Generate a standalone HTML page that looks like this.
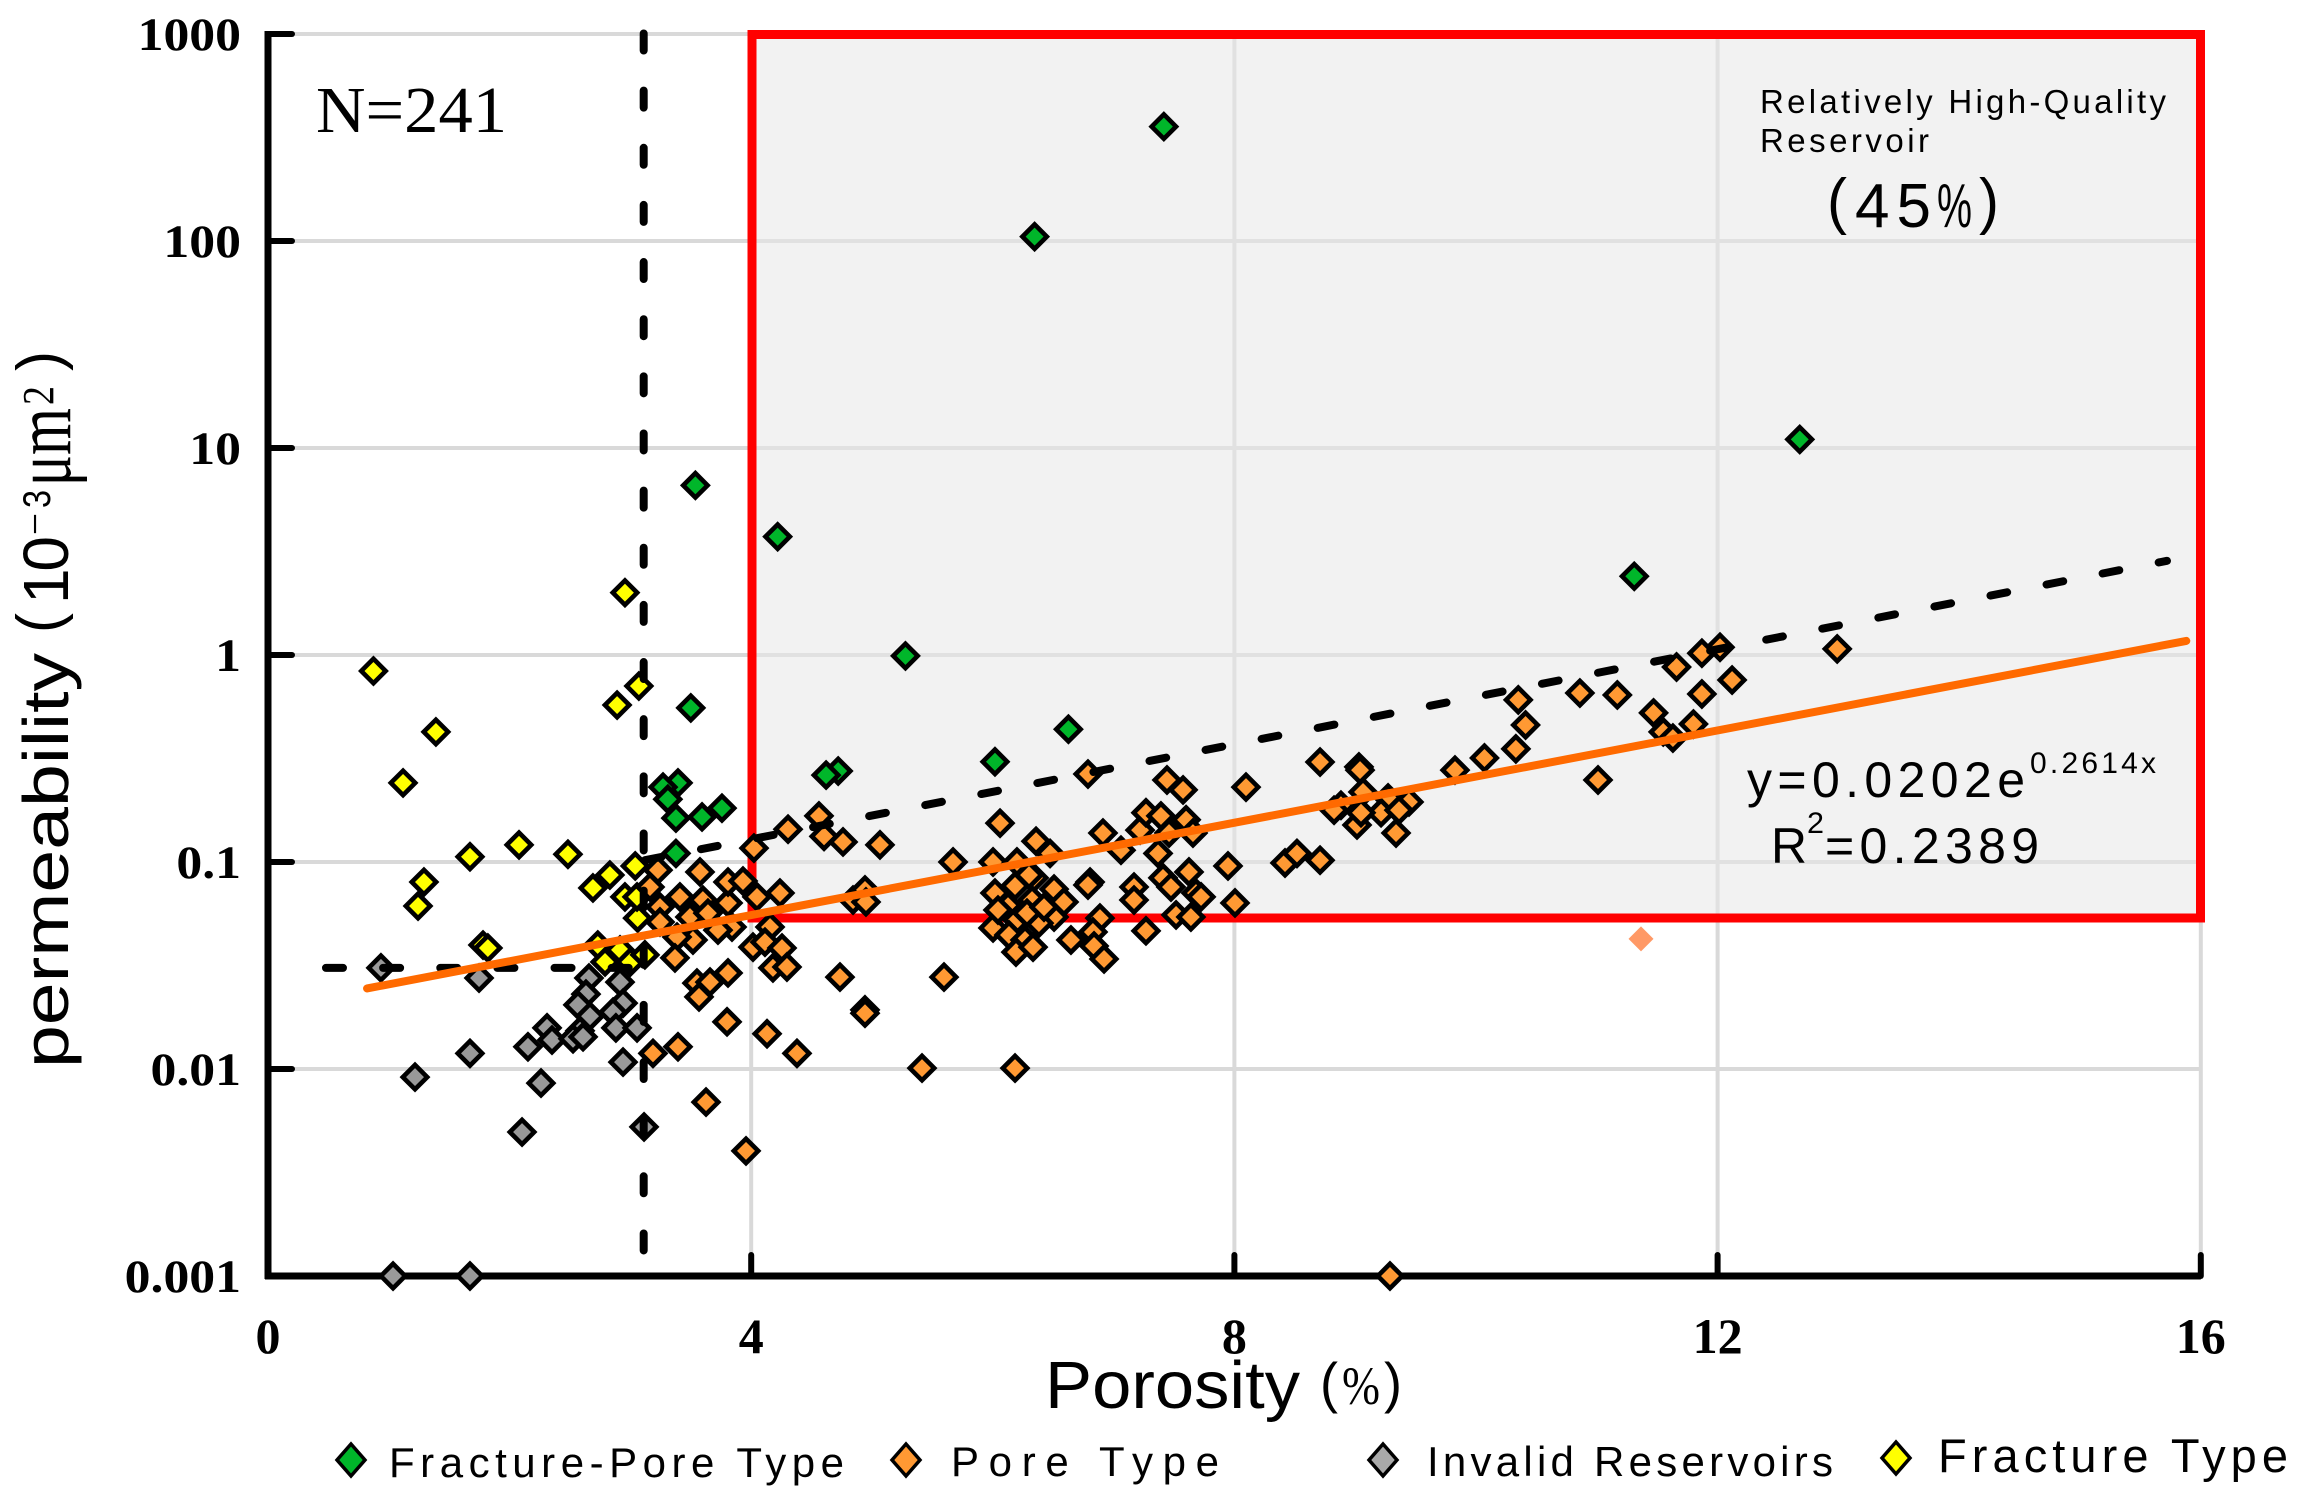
<!DOCTYPE html>
<html lang="en">
<head>
<meta charset="utf-8">
<title>Porosity vs permeability</title>
<style>
html,body{margin:0;padding:0;background:#fff;}
svg{display:block;}
text{fill:#000;}
.serif{font-family:"Liberation Serif",serif;}
.sans{font-family:"Liberation Sans",sans-serif;}
</style>
</head>
<body>
<svg id="chart" xmlns="http://www.w3.org/2000/svg" width="2302" height="1501" viewBox="0 0 2302 1501">
  <g id="grid"></g>
  <rect x="752" y="34.5" width="1448.5" height="883.5" fill="#e7e7e7" fill-opacity="0.553"/>
  <rect x="752" y="34.5" width="1448.5" height="883.5" fill="none" stroke="#ff0000" stroke-width="9"/>
  <g id="axes"></g>
  <g id="ticklabels"></g>
  <g id="marks"></g>
  <g id="lines"></g>

  <text class="serif" x="316" y="132" font-size="66" textLength="191" lengthAdjust="spacingAndGlyphs">N=241</text>

  <text class="sans" x="1760" y="113" font-size="33" textLength="406" lengthAdjust="spacing">Relatively High-Quality</text>
  <text class="sans" x="1760" y="152" font-size="33" textLength="169" lengthAdjust="spacing">Reservoir</text>
  <text class="sans" x="1827" y="222" font-size="62" textLength="20" lengthAdjust="spacingAndGlyphs">(</text>
  <text class="sans" x="1855" y="227" font-size="62" textLength="76" lengthAdjust="spacing">45</text>
  <text class="sans" x="1937" y="227" font-size="62" textLength="35" lengthAdjust="spacingAndGlyphs">%</text>
  <text class="sans" x="1979" y="222" font-size="62" textLength="20" lengthAdjust="spacingAndGlyphs">)</text>

  <text class="sans" x="1747" y="797" font-size="50" textLength="278" lengthAdjust="spacing">y=0.0202e</text>
  <text class="sans" x="2030" y="773" font-size="30" textLength="126" lengthAdjust="spacing">0.2614x</text>
  <text class="sans" x="1771" y="863" font-size="50" textLength="36" lengthAdjust="spacingAndGlyphs">R</text>
  <text class="sans" x="1807" y="833" font-size="30" textLength="17" lengthAdjust="spacingAndGlyphs">2</text>
  <text class="sans" x="1825" y="863" font-size="50" textLength="214" lengthAdjust="spacing">=0.2389</text>

  <text class="sans" x="1045" y="1408" font-size="67" textLength="255" lengthAdjust="spacingAndGlyphs">Porosity</text>
  <text class="sans" x="1320" y="1402" font-size="56" textLength="18" lengthAdjust="spacingAndGlyphs">(</text>
  <text class="serif" x="1342" y="1404" font-size="54" textLength="38" lengthAdjust="spacingAndGlyphs">%</text>
  <text class="sans" x="1384" y="1402" font-size="56" textLength="18" lengthAdjust="spacingAndGlyphs">)</text>

  <g>
    <text class="sans" transform="translate(68,1068) rotate(-90)" font-size="64" textLength="415" lengthAdjust="spacingAndGlyphs">permeability</text>
    <text class="sans" transform="translate(60,633) rotate(-90)" font-size="62" textLength="20" lengthAdjust="spacingAndGlyphs">(</text>
    <text class="sans" transform="translate(68,604) rotate(-90)" font-size="64" textLength="68" lengthAdjust="spacing">10</text>
    <text class="sans" transform="translate(45,535) rotate(-90)" font-size="30" textLength="22" lengthAdjust="spacingAndGlyphs">−</text>
    <text class="sans" transform="translate(50,508) rotate(-90)" font-size="39" textLength="18" lengthAdjust="spacingAndGlyphs">3</text>
    <text class="serif" transform="translate(70,486) rotate(-90)" font-size="80" textLength="31" lengthAdjust="spacingAndGlyphs">μ</text>
    <text class="serif" transform="translate(70,455) rotate(-90)" font-size="80" textLength="47" lengthAdjust="spacingAndGlyphs">m</text>
    <text class="serif" transform="translate(53,405) rotate(-90)" font-size="44" textLength="19" lengthAdjust="spacingAndGlyphs">2</text>
    <text class="sans" transform="translate(60,371) rotate(-90)" font-size="62" textLength="20" lengthAdjust="spacingAndGlyphs">)</text>
  </g>

  <g>
    <g>
      <polygon points="351,1444 365,1460 351,1476 337,1460" fill="#00b62a" stroke="#000" stroke-width="3.5"/>
      <text class="sans" x="389" y="1477" font-size="42" textLength="455" lengthAdjust="spacing">Fracture-Pore Type</text>
    </g>
    <g>
      <polygon points="906,1444 920,1460 906,1476 892,1460" fill="#ff9933" stroke="#000" stroke-width="3.5"/>
      <text class="sans" x="951" y="1476" font-size="42" textLength="268" lengthAdjust="spacing">Pore Type</text>
    </g>
    <g>
      <polygon points="1383,1444 1397,1460 1383,1476 1369,1460" fill="#aaaaaa" stroke="#000" stroke-width="3.5"/>
      <text class="sans" x="1427" y="1476" font-size="42" textLength="406" lengthAdjust="spacing">Invalid Reservoirs</text>
    </g>
    <g>
      <polygon points="1896,1442 1910,1458 1896,1474 1882,1458" fill="#ffff00" stroke="#000" stroke-width="3.5"/>
      <text class="sans" x="1938" y="1472" font-size="47" textLength="350" lengthAdjust="spacing">Fracture Type</text>
    </g>
  </g>
</svg>
<script>
var xTickValues = [0, 4, 8, 12, 16];
var xTickLabels = ["0", "4", "8", "12", "16"];
var yTickValues = [1000, 100, 10, 1, 0.1, 0.01, 0.001];
var yTickLabels = ["1000", "100", "10", "1", "0.1", "0.01", "0.001"];

var fracturePorosity = [0.873,1.39,1.118,1.672,2.078,2.483,1.291,1.242,2.69,2.83,3.04,2.955,3.06,3.055,1.78,1.82,2.73,2.914,2.79,3.0,3.12,2.89,2.955,3.07];
var fracturePermeability = [0.837,0.425,0.241,0.106,0.121,0.109,0.080,0.0613,0.0749,0.0865,0.0957,0.0678,0.0536,0.0678,0.0397,0.0384,0.0397,0.0376,0.0329,0.0329,0.0356,0.573,2.0,0.708];

var invalidPorosity = [0.935,1.747,2.657,2.914,2.632,2.566,2.939,2.856,2.666,2.31,2.583,2.88,3.055,2.351,2.152,2.525,2.608,1.672,2.939,1.217,2.26,2.103,3.113,1.035,1.672];
var invalidPermeability = [0.0308,0.0275,0.0275,0.0263,0.023,0.0204,0.0208,0.0188,0.018,0.0158,0.0153,0.0158,0.0158,0.0138,0.0128,0.014,0.0143,0.0119,0.0108,0.00914,0.00855,0.00496,0.00525,0.001,0.001];

var porePorosity = [3.228,3.162,3.245,3.245,3.41,3.576,3.60,3.493,3.808,3.808,3.932,4.048,4.238,3.642,3.841,3.518,3.386,3.369,4.156,4.015,4.114,4.255,4.18,4.296,3.551,3.659,3.808,3.568,3.80,4.131,3.187,3.394,4.379,3.626,3.957,4.023,4.305,3.725,
  4.561,4.603,4.76,5.066,4.735,4.942,4.942,5.596,5.414,6.184,4.843,4.942,4.95,5.671,6.002,6.06,6.2,6.358,6.474,6.788,6.912,7.061,6.805,6.788,7.219,7.268,7.392,7.442,7.575,7.6,7.657,7.459,7.368,7.169,7.169,7.409,7.475,7.624,7.682,7.724,7.947,8.096,8.005,7.517,7.64,8.419,8.518,
  6.018,6.184,6.341,6.507,6.589,6.126,6.325,6.507,6.382,6.2,6.002,6.134,6.267,6.192,6.283,6.3,6.424,6.043,6.333,6.887,6.829,6.647,6.838,6.921,7.268,
  12.99,12.02,11.87,11.66,12.12,11.87,11.47,11.8,11.55,11.63,11.17,10.86,10.35,10.41,10.33,11.01,10.07,9.826,8.709,9.031,9.04,9.065,8.882,8.825,9.272,9.445,9.214,9.363,9.015,9.338,9.048,8.709,9.288];
var porePermeability = [0.0914,0.0757,0.0606,0.0513,0.0678,0.0895,0.0655,0.0542,0.0634,0.08,0.0809,0.0678,0.0708,0.0566,0.0485,0.042,0.0434,0.0344,0.0485,0.0388,0.041,0.0384,0.0308,0.0311,0.026,0.0263,0.0291,0.0223,0.0169,0.0148,0.0119,0.0128,0.0119,0.00692,0.00402,0.1167,0.144,0.0469,
  0.167,0.133,0.125,0.121,0.0278,0.0193,0.0186,0.0278,0.0101,0.0101,0.0655,0.0733,0.0641,0.1,0.1,0.154,0.1,0.126,0.11,0.266,0.138,0.114,0.08,0.0774,0.1426,0.173,0.167,0.249,0.223,0.16,0.138,0.138,0.11,0.0757,0.0655,0.0838,0.0757,0.0895,0.0708,0.0678,0.0957,0.23,0.0634,0.0555,0.0542,0.0989,0.11,
  0.0708,0.0766,0.0838,0.074,0.0641,0.0612,0.0655,0.0542,0.0507,0.0525,0.048,0.0444,0.042,0.0367,0.0566,0.0865,0.0605,0.0586,0.0388,0.0536,0.0459,0.042,0.0393,0.034,0.0465,
  1.07,1.09,1.02,0.875,0.757,0.648,0.525,0.464,0.425,0.397,0.641,0.655,0.607,0.459,0.352,0.249,0.318,0.278,0.304,0.288,0.278,0.218,0.188,0.178,0.204,0.195,0.173,0.178,0.151,0.138,0.173,0.102,0.001];

var fracturePorePorosity = [7.416,6.346,12.68,3.538,4.219,11.31,5.277,3.50,6.626,6.018,4.72,4.62,3.394,3.27,3.31,3.377,3.593,3.758,3.377];
var fracturePorePermeability = [357,105,11,6.6,3.73,2.4,0.99,0.555,0.438,0.305,0.275,0.263,0.241,0.23,0.201,0.163,0.165,0.182,0.11];

var outlierPorosity = [11.366];
var outlierPermeability = [0.0425];

var trendPorosity = [0.82, 15.88];
var trendPermeability = [0.0245, 1.17];
var upperBoundPorosity = [3.12, 15.72];
var upperBoundPermeability = [0.102, 2.85];
var cutoffPorosity = [3.11];
var cutoffPermeability = [0.0308];
var cutoffStartPorosity = [0.48];

var NS = "http://www.w3.org/2000/svg";
function xAxis(v){ return 268 + v * 120.8; }
function yAxis(v){ return 34 + (3 - Math.log10(v)) * 207; }
function make(tag, parent, attrs){
  var el = document.createElementNS(NS, tag);
  for (var k in attrs) el.setAttribute(k, attrs[k]);
  parent.appendChild(el);
  return el;
}

var grid = document.getElementById("grid");
var axes = document.getElementById("axes");
var tickLabels = document.getElementById("ticklabels");

yTickValues.forEach(function(v, i){
  var g = make("line", grid, {x1: xAxis(0), x2: xAxis(16), y1: yAxis(v), y2: yAxis(v), stroke: "#d9d9d9", "stroke-width": 4});
  
  
  var t = make("line", axes, {x1: xAxis(0), x2: xAxis(0) + 24, y1: yAxis(v), y2: yAxis(v), stroke: "#000", "stroke-width": 6, "stroke-linecap": "round"});
  
  
  var lab = make("text", tickLabels, {x: 241, y: yAxis(v) + 16, "font-size": 47, "font-weight": "bold", "text-anchor": "end", "class": "serif"});
  lab.textContent = yTickLabels[i];
  
  
  lab.setAttribute("textLength", lab.getComputedTextLength() * 1.1);
  lab.setAttribute("lengthAdjust", "spacingAndGlyphs");
});

xTickValues.forEach(function(v, i){
  if (v > 0) {
    var g = make("line", grid, {x1: xAxis(v), x2: xAxis(v), y1: yAxis(1000), y2: yAxis(0.001), stroke: "#d9d9d9", "stroke-width": 4});
    
    
    var t = make("line", axes, {x1: xAxis(v), x2: xAxis(v), y1: yAxis(0.001), y2: yAxis(0.001) - 21, stroke: "#000", "stroke-width": 6, "stroke-linecap": "round"});
    
    
  }
  var lab = make("text", tickLabels, {x: xAxis(v), y: 1353, "font-size": 50, "font-weight": "bold", "text-anchor": "middle", "class": "serif"});
  lab.textContent = xTickLabels[i];
  
  
});

var yLine = make("line", axes, {x1: xAxis(0), x2: xAxis(0), y1: yAxis(1000) - 3, y2: yAxis(0.001) + 3, stroke: "#000", "stroke-width": 7});


var xLine = make("line", axes, {x1: xAxis(0) - 3, x2: xAxis(16), y1: yAxis(0.001), y2: yAxis(0.001), stroke: "#000", "stroke-width": 7});



var marks = document.getElementById("marks");
function drawSeries(xs, ys, fill, name){
  xs.forEach(function(x, i){
    var cx = xAxis(x), cy = yAxis(ys[i]), r = 12.2;
    var p = make("polygon", marks, {
      points: cx + "," + (cy - r) + " " + (cx + r) + "," + cy + " " + cx + "," + (cy + r) + " " + (cx - r) + "," + cy,
      fill: fill, stroke: "#000", "stroke-width": 4.6
    });
    
    
  });
}
drawSeries(invalidPorosity, invalidPermeability, "#999999", "invalid-reservoir-point");
drawSeries(fracturePorosity, fracturePermeability, "#ffff00", "fracture-type-point");
drawSeries(porePorosity, porePermeability, "#ff9933", "pore-type-point");
drawSeries(fracturePorePorosity, fracturePorePermeability, "#00b62a", "fracture-pore-type-point");

outlierPorosity.forEach(function(x, i){
  var cx = xAxis(x), cy = yAxis(outlierPermeability[i]), r = 12.5;
  var p = make("polygon", marks, {
    points: cx + "," + (cy - r) + " " + (cx + r) + "," + cy + " " + cx + "," + (cy + r) + " " + (cx - r) + "," + cy,
    fill: "#ff9966"
  });
  
  
});

var lines = document.getElementById("lines");
var dash = {stroke: "#000", "stroke-width": 8, "stroke-dasharray": "17 40.14", "stroke-linecap": "round", fill: "none"};
function line(x1, y1, x2, y2, base){
  var a = {x1: x1, y1: y1, x2: x2, y2: y2};
  for (var k in base) a[k] = base[k];
  return make("line", lines, a);
}
var vCut = line(xAxis(cutoffPorosity[0]), 33.5, xAxis(cutoffPorosity[0]), 1256, dash);


var hCut = line(xAxis(cutoffStartPorosity[0]), yAxis(cutoffPermeability[0]), xAxis(cutoffPorosity[0]), yAxis(cutoffPermeability[0]), dash);


var upper = line(xAxis(upperBoundPorosity[0]), yAxis(upperBoundPermeability[0]), xAxis(upperBoundPorosity[1]), yAxis(upperBoundPermeability[1]), dash);


var trend = line(xAxis(trendPorosity[0]), yAxis(trendPermeability[0]), xAxis(trendPorosity[1]), yAxis(trendPermeability[1]), {stroke: "#ff6a00", "stroke-width": 8, "stroke-linecap": "round"});


</script>
</body>
</html>
